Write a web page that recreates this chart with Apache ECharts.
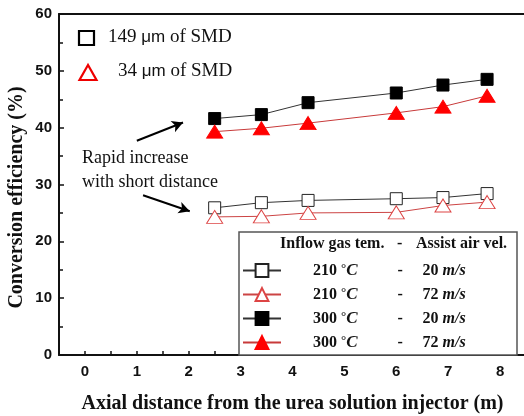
<!DOCTYPE html>
<html>
<head>
<meta charset="utf-8">
<script src="https://cdn.jsdelivr.net/npm/echarts@6/dist/echarts.min.js"></script>
<style>
html,body{margin:0;padding:0;background:#fff;}
#chart{width:524px;height:416px;}
</style>
</head>
<body>
<div id="chart"></div>
<script>
// 轴向位置 (m)
var xPos = [2.5, 3.4, 4.3, 6.0, 6.9, 7.75];
// 转化效率 (%)
var y210_20 = [25.9, 26.8, 27.2, 27.5, 27.7, 28.4];
var y210_72 = [24.3, 24.4, 25.0, 25.1, 26.3, 26.9];
var y300_20 = [41.6, 42.3, 44.4, 46.1, 47.5, 48.5];
var y300_72 = [39.3, 39.9, 40.8, 42.6, 43.7, 45.6];
var seriesNames = ['210/20', '210/72', '300/20', '300/72'];
var xTicks = [0, 1, 2, 3, 4, 5, 6, 7, 8];

function pairs(ys) {
	return xPos.map(function(x, i) { return [x, ys[i]]; });
}

var serif = 'Liberation Serif';
var sans = 'Liberation Sans';

var legendRows = {
	'210/20': ['210', '20'],
	'210/72': ['210', '72'],
	'300/20': ['300', '20'],
	'300/72': ['300', '72']
};

var chart = echarts.init(document.getElementById('chart'));
chart.setOption({
	animation: false,
	grid: { left: 59, top: 14, right: -2, bottom: 61, outerBoundsMode: 'none', containLabel: false },
	xAxis: [{
		type: 'value',
		min: -0.5,
		max: 8.5,
		interval: 0.5,
		splitLine: { show: false },
		axisLine: { onZero: false, lineStyle: { color: '#111', width: 2 } },
		axisTick: { inside: true, length: 4, lineStyle: { color: '#111', width: 1.5 } },
		axisLabel: {
			margin: 9,
			color: '#111',
			fontFamily: sans,
			fontWeight: 'bold',
			fontSize: 15,
			formatter: function(v) { return xTicks.indexOf(v) > -1 ? v : ''; }
		},
		name: 'Axial distance from the urea solution injector (m)',
		nameLocation: 'middle',
		nameGap: 39,
		nameTextStyle: {
			fontFamily: serif,
			fontWeight: 'bold',
			fontSize: 20,
			color: '#111'
		}
	}, {
		type: 'value',
		position: 'top',
		min: -0.5,
		max: 8.5,
		axisLine: { onZero: false, lineStyle: { color: '#111', width: 2 } },
		axisTick: { show: false },
		axisLabel: { show: false },
		splitLine: { show: false }
	}],
	yAxis: [{
		type: 'value',
		min: 0,
		max: 60,
		interval: 10,
		splitLine: { show: false },
		axisLine: { show: true, onZero: false, lineStyle: { color: '#111', width: 2 } },
		axisTick: { inside: true, length: 5, lineStyle: { color: '#111', width: 1.5 } },
		minorTick: { show: true, splitNumber: 2, length: 4, lineStyle: { color: '#111', width: 1.5 } },
		axisLabel: {
			margin: 7,
			color: '#111',
			fontFamily: sans,
			fontWeight: 'bold',
			fontSize: 15
		},
		name: 'Conversion efficiency (%)',
		nameLocation: 'middle',
		nameGap: 32,
		nameMoveOverlap: false,
		nameTextStyle: {
			fontFamily: serif,
			fontWeight: 'bold',
			fontSize: 20,
			color: '#111',
			padding: [0, 26, 0, 0]
		}
	}],
	legend: {
		orient: 'vertical',
		left: 242,
		top: 262,
		padding: 0,
		itemWidth: 38,
		itemHeight: 16,
		itemGap: 7,
		z: 5,
		data: seriesNames,
		formatter: function(name) {
			var r = legendRows[name];
			return '{s|}{t|' + r[0] + ' }{deg|°}{c|C}{g|}{d|-}{h|}{v|' + r[1] + ' }{u|m/s}';
		},
		textStyle: {
			fontFamily: serif,
			fontWeight: 'bold',
			fontSize: 16,
			color: '#111',
			lineHeight: 16,
			rich: {
				s: { width: 27 },
				t: { fontFamily: serif, fontWeight: 'bold', fontSize: 16, color: '#111' },
				deg: { fontFamily: serif, fontWeight: 'bold', fontSize: 13, color: '#111', verticalAlign: 'top' },
				c: { fontFamily: serif, fontWeight: 'bold', fontStyle: 'italic', fontSize: 17, color: '#111' },
				g: { width: 40 },
				d: { fontFamily: serif, fontWeight: 'bold', fontSize: 16, color: '#111', width: 6 },
				h: { width: 19 },
				v: { fontFamily: serif, fontWeight: 'bold', fontSize: 16, color: '#111' },
				u: { fontFamily: serif, fontWeight: 'bold', fontStyle: 'italic', fontSize: 16, color: '#111' }
			}
		}
	},
	graphic: [
		// 图例框
		{
			type: 'rect', z: 1,
			shape: { x: 239, y: 232, width: 278, height: 123 },
			style: { fill: '#fff', stroke: '#555', lineWidth: 1.5 }
		},
		{
			type: 'text', z: 6, left: 280, top: 236,
			style: { text: 'Inflow gas tem.', font: 'bold 16px "Liberation Serif"', fill: '#111' }
		},
		{
			type: 'text', z: 6, left: 397, top: 236,
			style: { text: '-', font: 'bold 16px "Liberation Serif"', fill: '#111' }
		},
		{
			type: 'text', z: 6, left: 416, top: 236,
			style: { text: 'Assist air vel.', font: 'bold 16px "Liberation Serif"', fill: '#111' }
		},
		// 左上角说明
		{
			type: 'rect', z: 6,
			shape: { x: 79, y: 31, width: 15, height: 14 },
			style: { fill: 'none', stroke: '#000', lineWidth: 2.2 }
		},
		{
			type: 'polygon', z: 6,
			shape: { points: [[88, 65], [79.5, 80], [96.5, 80]] },
			style: { fill: 'none', stroke: '#e00', lineWidth: 2.2 }
		},
		{
			type: 'text', z: 6, left: 108, top: 28,
			style: {
				text: '{n|149 }{m|μm}{n| of SMD}',
				rich: {
					n: { fontFamily: serif, fontSize: 19, fill: '#111' },
					m: { fontFamily: sans, fontSize: 17, fill: '#111' }
				}
			}
		},
		{
			type: 'text', z: 6, left: 118, top: 62,
			style: {
				text: '{n|34 }{m|μm}{n| of SMD}',
				rich: {
					n: { fontFamily: serif, fontSize: 19, fill: '#111' },
					m: { fontFamily: sans, fontSize: 17, fill: '#111' }
				}
			}
		},
		{
			type: 'text', z: 6, left: 82, top: 149,
			style: { text: 'Rapid increase', font: '18px "Liberation Serif"', fill: '#111' }
		},
		{
			type: 'text', z: 6, left: 82, top: 173,
			style: { text: 'with short distance', font: '18px "Liberation Serif"', fill: '#111' }
		}
	],
	series: [
		{
			name: '210/20',
			type: 'line',
			data: pairs(y210_20),
			symbol: 'rect',
			symbolSize: 12,
			lineStyle: { color: '#333', width: 1 },
			itemStyle: { color: '#fff', borderColor: '#222', borderWidth: 1 }
		},
		{
			name: '210/72',
			type: 'line',
			data: pairs(y210_72),
			symbol: 'triangle',
			symbolSize: [16, 13],
			lineStyle: { color: '#cc4444', width: 1 },
			itemStyle: { color: '#fff', borderColor: '#d44', borderWidth: 1 }
		},
		{
			name: '300/20',
			type: 'line',
			data: pairs(y300_20),
			symbol: 'rect',
			symbolSize: 12,
			lineStyle: { color: '#333', width: 1 },
			itemStyle: { color: '#000', borderColor: '#000', borderWidth: 1 },
			markLine: {
				silent: true,
				symbol: ['none', 'arrow'],
				symbolSize: [9, 11],
				label: { show: false },
				lineStyle: { color: '#000', width: 2, type: 'solid' },
				data: [
					[{ coord: [1.0, 37.7] }, { coord: [1.89, 40.9] }],
					[{ coord: [1.12, 28.1] }, { coord: [2.02, 25.3] }]
				]
			}
		},
		{
			name: '300/72',
			type: 'line',
			data: pairs(y300_72),
			symbol: 'triangle',
			symbolSize: [16, 13],
			lineStyle: { color: '#c83a3a', width: 1 },
			itemStyle: { color: '#f00', borderColor: '#f00', borderWidth: 1 }
		}
	]
});
</script>
</body>
</html>
